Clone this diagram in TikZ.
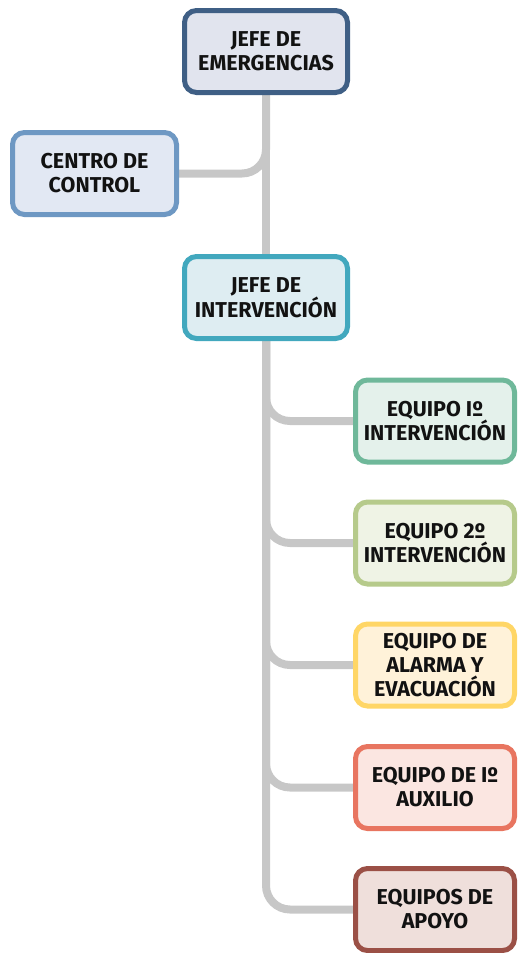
\documentclass[tikz,border=0pt]{standalone}
\usepackage{fontspec}
\setmainfont{Fira Sans}
\usetikzlibrary{positioning,backgrounds}
\tikzset{cargo/.style={
        rectangle, rounded corners=12pt, line width=5pt,
        minimum width=159pt, minimum height=82pt, outer sep=0pt,
        align=center, text=black!93,
        font=\fontsize{21.5}{24}\selectfont\bfseries
    },
    enlace/.style={draw=black!22, line width=8pt, rounded corners=24pt}
}
\definecolor{bordeA}{HTML}{3F5F85}\definecolor{fondoA}{HTML}{E1E4EE}
\definecolor{bordeB}{HTML}{6E98C3}\definecolor{fondoB}{HTML}{E2E8F3}
\definecolor{bordeC}{HTML}{42A8BE}\definecolor{fondoC}{HTML}{DEEDF2}
\definecolor{bordeD}{HTML}{6FB89A}\definecolor{fondoD}{HTML}{E4F1EB}
\definecolor{bordeE}{HTML}{B6CA8B}\definecolor{fondoE}{HTML}{EFF3E5}
\definecolor{bordeF}{HTML}{FFD666}\definecolor{fondoF}{HTML}{FFF2D9}
\definecolor{bordeG}{HTML}{E87560}\definecolor{fondoG}{HTML}{FBE6E1}
\definecolor{bordeH}{HTML}{9B5046}\definecolor{fondoH}{HTML}{EFDFDB}

\begin{document}
\begin{tikzpicture}[x=1pt, y=-1pt]
    \useasboundingbox (0,0) rectangle (517,953);
    % Cargos
    \node[cargo, minimum width=163pt, draw=bordeA, fill=fondoA] (jefe) at (266,51.5) {JEFE DE\\EMERGENCIAS};
    \node[cargo, minimum width=164pt, draw=bordeB, fill=fondoB] (centro) at (94.5,173.5) {CENTRO DE\\CONTROL};
    \node[cargo, minimum width=163pt, draw=bordeC, fill=fondoC] (interv) at (266,297.5) {JEFE DE\\INTERVENCIÓN};
    \node[cargo, draw=bordeD, fill=fondoD] (equipoA) at (435,421) {EQUIPO Iº\\INTERVENCIÓN};
    \node[cargo, draw=bordeE, fill=fondoE] (equipoB) at (435,543) {EQUIPO 2º\\INTERVENCIÓN};
    \node[cargo, draw=bordeF, fill=fondoF] (alarma) at (435,665) {EQUIPO DE\\ALARMA Y\\EVACUACIÓN};
    \node[cargo, draw=bordeG, fill=fondoG] (auxilio) at (435,787.5) {EQUIPO DE Iº\\AUXILIO};
    \node[cargo, draw=bordeH, fill=fondoH] (apoyo) at (435,909.5) {EQUIPOS DE\\APOYO};
    % Enlaces
    \begin{scope}[on background layer]
        \draw[enlace] (jefe.south) -- (interv.north);
        \draw[enlace] (jefe.south) |- (centro.east);
        \draw[enlace] (interv.south) |- (equipoA.west);
        \draw[enlace] (interv.south) |- (equipoB.west);
        \draw[enlace] (interv.south) |- (alarma.west);
        \draw[enlace] (interv.south) |- (auxilio.west);
        \draw[enlace] (interv.south) |- (apoyo.west);
    \end{scope}
\end{tikzpicture}
\end{document}
